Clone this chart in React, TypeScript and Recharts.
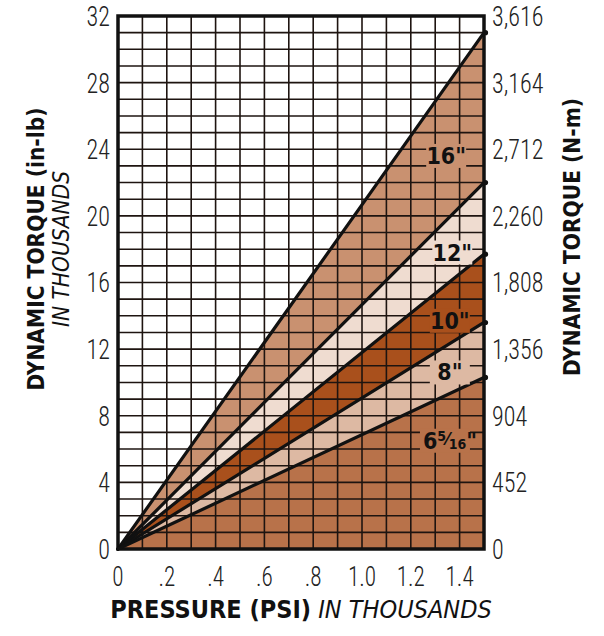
import { ComposedChart, Area, Line, XAxis, YAxis, ReferenceLine, ReferenceArea, ReferenceDot, Label } from 'recharts';

// Pressure in thousands of psi, torque in thousands of in-lb
const pressure = [0, 1.5];
const torque16 = [0, 31.0];
const torque12 = [0, 22.0];
const torque10 = [0, 17.7];
const torque8 = [0, 13.6];
const torque6 = [0, 10.3];

const sizes = ['16', '12', '10', '8', '6_5/16'];
const seriesKeys = ['t16', 't12', 't10', 't8', 't6'];

const pressureTicks = [0, 0.2, 0.4, 0.6, 0.8, 1.0, 1.2, 1.4];
const torqueTicks = [0, 4, 8, 12, 16, 20, 24, 28, 32];
const newtonMeterTicks = [0, 452, 904, 1356, 1808, 2260, 2712, 3164, 3616];

const pressureGrid = [0.1, 0.2, 0.3, 0.4, 0.5, 0.6, 0.7, 0.8, 0.9, 1.0, 1.1, 1.2, 1.3, 1.4];
const torqueGrid = [
  1, 2, 3, 4, 5, 6, 7, 8, 9, 10, 11, 12, 13, 14, 15, 16,
  17, 18, 19, 20, 21, 22, 23, 24, 25, 26, 27, 28, 29, 30, 31,
];

const data = pressure.map((p, i) => ({
  p,
  t16: torque16[i],
  t12: torque12[i],
  t10: torque10[i],
  t8: torque8[i],
  t6: torque6[i],
}));

// band colour under each cylinder line (drawn largest first)
const FILLS = ['#c99170', '#efdcd0', '#a9501c', '#ddb9a3', '#b8724a'];
// where the size tags sit, in chart units
const TAG_AT: [number, number][] = [
  [1.345, 23.6],
  [1.37, 17.8],
  [1.36, 13.7],
  [1.36, 10.6],
  [1.34, 6.5],
];

const FONT = '"Liberation Sans Narrow", "DejaVu Sans Condensed", "Liberation Sans", Arial, sans-serif';
const NUM_FONT = '"Roboto Condensed", "Liberation Sans Narrow", "DejaVu Sans Condensed", sans-serif';
const INK = '#111';

const fmtPressure = (v: number) => (v === 0 ? '0' : v < 1 ? String(v).replace(/^0/, '') : v.toFixed(1));
const fmtPlain = (v: number) => v.toLocaleString('en-US');

// narrow light numerals for the axis scales
function NumTick({ x, y, payload, anchor, dy, fmt, size = 28 }: any) {
  return (
    <g transform={`translate(${x},${y})`}>
      <text
        transform="scale(0.86,1)"
        textAnchor={anchor}
        dy={dy}
        fontFamily={NUM_FONT}
        fontSize={size}
        fontWeight={300}
        fill="#222"
      >
        {fmt(payload.value)}
      </text>
    </g>
  );
}

// small knob where each line meets the right edge
function EndKnob(props: any) {
  const { cx, cy, index, key } = props;
  if (index !== pressure.length - 1 || cx == null) return <g key={key} />;
  return <circle key={key} cx={cx + 1.5} cy={cy} r={2.6} fill={INK} />;
}

function SizeTag({ cx, cy, size, fill }: { cx?: number; cy?: number; size: string; fill: string }) {
  if (cx == null || cy == null) return null;
  if (size.includes('_')) {
    const [whole, frac] = size.split('_');
    const [num, den] = frac.split('/');
    return (
      <g>
        <rect x={cx - 25} y={cy - 12} width={50} height={24} fill={fill} />
        <text x={cx - 22} y={cy + 8} fontFamily={FONT} fontWeight="bold" fontSize={23} fill={INK}>
          {whole}
          <tspan fontSize={14} dy={-8}>{num}</tspan>
          <tspan fontSize={18} dy={4}>⁄</tspan>
          <tspan fontSize={14} dy={4}>{den}</tspan>
          <tspan fontSize={23} dy={0}>"</tspan>
        </text>
      </g>
    );
  }
  return (
    <g>
      <rect x={cx - 20} y={cy - 12} width={40} height={24} fill={fill} />
      <text x={cx} y={cy + 8} textAnchor="middle" fontFamily={FONT} fontWeight="bold" fontSize={23} fill={INK}>
        {size}"
      </text>
    </g>
  );
}

export default function App() {
  return (
    <div style={{ position: 'absolute', left: 0, top: 0, background: '#fff' }}>
      <ComposedChart width={604} height={636} data={data} margin={{ top: 16, right: 0, bottom: 0, left: 0 }}>
        <XAxis
          dataKey="p"
          type="number"
          domain={[0, 1.5]}
          ticks={pressureTicks}
          tick={(props: any) => <NumTick {...props} anchor="middle" dy="0.71em" size={27} fmt={fmtPressure} />}
          tickLine={false}
          axisLine={false}
          tickSize={0}
          tickMargin={18}
          height={87}
        >
          <Label
            content={({ viewBox }: any) => (
              <text x={viewBox.x + viewBox.width / 2} y={618} textAnchor="middle" fontFamily={FONT} fontSize={25} fill={INK}>
                <tspan fontWeight="bold">PRESSURE (PSI)</tspan>
                <tspan fontStyle="italic"> IN THOUSANDS</tspan>
              </text>
            )}
          />
        </XAxis>
        <YAxis
          yAxisId="in"
          type="number"
          domain={[0, 32]}
          ticks={torqueTicks}
          tick={(props: any) => <NumTick {...props} anchor="end" dy="0.355em" fmt={fmtPlain} />}
          tickLine={false}
          axisLine={false}
          tickSize={0}
          tickMargin={8}
          width={118}
        >
          <Label
            content={() => (
              <g fontFamily={FONT} fill={INK}>
                <text x={44} y={249} transform="rotate(-90, 44, 249)" textAnchor="middle" fontWeight="bold" fontSize={22.5}>
                  DYNAMIC TORQUE (in-lb)
                </text>
                <text x={69} y={249} transform="rotate(-90, 69, 249)" textAnchor="middle" fontStyle="italic" fontSize={22.5}>
                  IN THOUSANDS
                </text>
              </g>
            )}
          />
        </YAxis>
        <YAxis
          yAxisId="nm"
          orientation="right"
          type="number"
          domain={[0, 3616]}
          allowDataOverflow
          ticks={newtonMeterTicks}
          tick={(props: any) => <NumTick {...props} anchor="start" dy="0.355em" fmt={fmtPlain} />}
          tickLine={false}
          axisLine={false}
          tickSize={0}
          tickMargin={8}
          width={120}
        >
          <Label
            content={() => (
              <text x={580} y={237} transform="rotate(-90, 580, 237)" textAnchor="middle" fontFamily={FONT} fontWeight="bold" fontSize={22.5} fill={INK}>
                DYNAMIC TORQUE (N-m)
              </text>
            )}
          />
        </YAxis>

        {seriesKeys.map((k, i) => (
          <Area
            key={`band-${k}`}
            yAxisId="in"
            type="linear"
            dataKey={k}
            baseValue={0}
            stroke="none"
            fill={FILLS[i]}
            fillOpacity={1}
            isAnimationActive={false}
            zIndex={100}
          />
        ))}

        {pressureGrid.map((x) => (
          <ReferenceLine key={`gx-${x}`} yAxisId="in" x={x} stroke="#1e1410" strokeWidth={1.6} zIndex={150} />
        ))}
        {torqueGrid.map((y) => (
          <ReferenceLine key={`gy-${y}`} yAxisId="in" y={y} stroke="#1e1410" strokeWidth={1.6} zIndex={150} />
        ))}
        {/* keeps the N-m axis spanning its full range */}
        <ReferenceLine yAxisId="nm" y={3616} stroke="none" ifOverflow="extendDomain" />

        <ReferenceArea
          yAxisId="in"
          x1={0}
          x2={1.5}
          y1={0}
          y2={32}
          fill="none"
          fillOpacity={0}
          stroke={INK}
          strokeWidth={3.5}
          zIndex={300}
        />

        {seriesKeys.map((k) => (
          <Line
            key={`line-${k}`}
            yAxisId="in"
            type="linear"
            dataKey={k}
            stroke={INK}
            strokeWidth={3.2}
            strokeLinecap="round"
            dot={EndKnob}
            activeDot={false}
            isAnimationActive={false}
            zIndex={400}
          />
        ))}

        {sizes.map((s, i) => (
          <ReferenceDot
            key={`tag-${s}`}
            yAxisId="in"
            x={TAG_AT[i][0]}
            y={TAG_AT[i][1]}
            zIndex={700}
            shape={(props: any) => <SizeTag cx={props.cx} cy={props.cy} size={s} fill={FILLS[i]} />}
          />
        ))}
      </ComposedChart>
    </div>
  );
}
